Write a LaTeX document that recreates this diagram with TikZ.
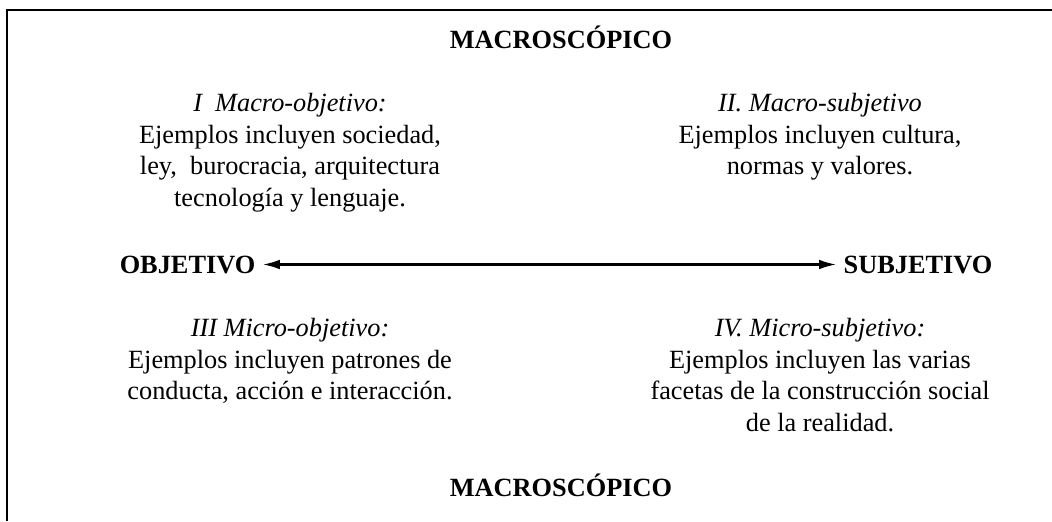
\documentclass[tikz,border=0pt]{standalone}
\usepackage{fontspec}
\setmainfont{Liberation Serif}
\usepackage{tikz}
\usetikzlibrary{arrows.meta}

\begin{document}
\begin{tikzpicture}[x=0.456pt, y=-0.456pt,
    axislbl/.style={font=\fontsize{12}{14.4}\selectfont\bfseries, inner xsep=3.2pt, inner ysep=0pt},
    quadtxt/.style={font=\fontsize{12}{14.4}\selectfont, align=center, inner sep=0pt, anchor=north}]
          % Variables
          \def \leftx  {290}
          \def \rightx {820}
          \def \midx   {561}
          \def \uppery {93}
          \def \lowery {318}

          \useasboundingbox (0,0) rectangle (1052,521);

          % Frame (top and left only)
          \draw [line width=0.75pt] (7,521) -- (7,10) -- (1052,10);

          % Vertical labels
          \node[axislbl, anchor=base] (macrotop) at (\midx,48) {MACROSCÓPICO};
          \node[axislbl, anchor=base] (macrobot) at (\midx,496) {MACROSCÓPICO};

          % Horizontal axis
          \node[axislbl, anchor=base] (obj)  at (187.5,273) {OBJETIVO};
          \node[axislbl, anchor=base] (subj) at (918,273) {SUBJETIVO};
          \draw [line width=1pt, {Latex[length=7.8pt,width=4.4pt]}-{Latex[length=7.8pt,width=4.4pt]}] (obj.east) -- (subj.west);

          % Quadrants
          \node[quadtxt] (qone) at (\leftx,\uppery) {\textit{I\ \ Macro-objetivo:}\\ Ejemplos incluyen sociedad,\\ ley, \ burocracia, arquitectura\\ tecnología y lenguaje.};
          \node[quadtxt] (qtwo) at (\rightx,\uppery) {\textit{II. Macro-subjetivo}\\ Ejemplos incluyen cultura,\\ normas y valores.};
          \node[quadtxt] (qthree) at (\leftx,\lowery) {\textit{III Micro-objetivo:}\\ Ejemplos incluyen patrones de\\ conducta, acción e interacción.};
          \node[quadtxt] (qfour) at (\rightx,\lowery) {\textit{IV. Micro-subjetivo:}\\ Ejemplos incluyen las varias\\ facetas de la construcción social\\ de la realidad.};

        \end{tikzpicture}
\end{document}
